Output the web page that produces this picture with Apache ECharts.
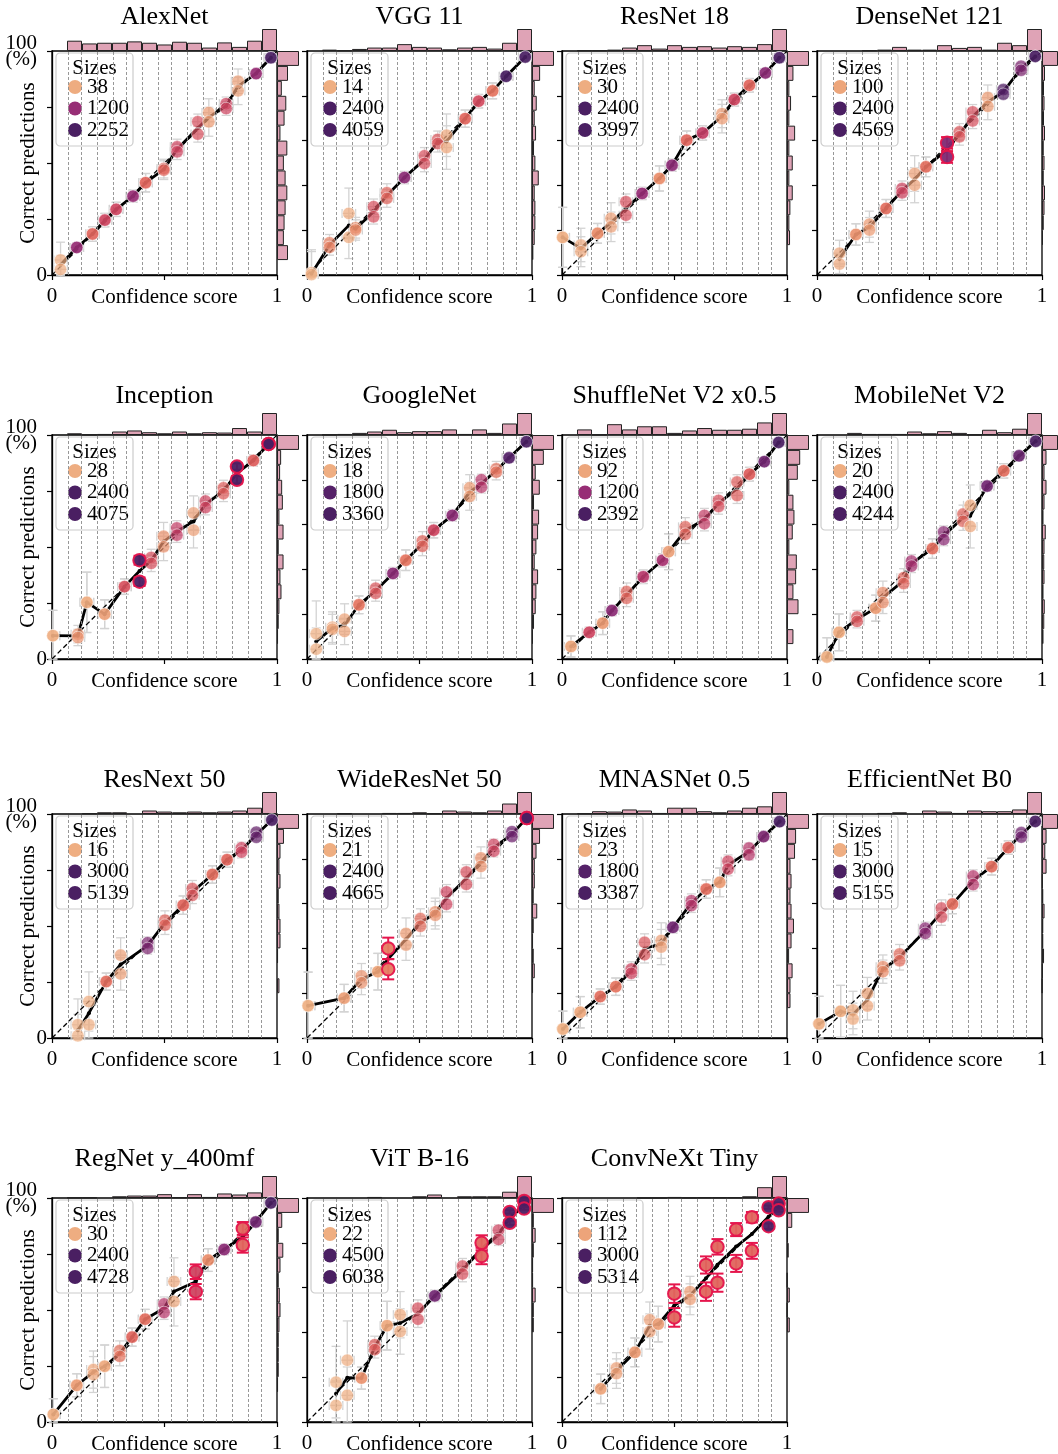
<!DOCTYPE html>
<html><head><meta charset="utf-8">
<script src="https://cdn.jsdelivr.net/npm/echarts/dist/echarts.min.js"></script>
<style>html,body{margin:0;padding:0;background:#fff}#c{width:1058px;height:1454px}</style>
</head><body><div id="c"></div>
<script>
// ---------------- DATA ----------------
const titles = ['AlexNet','VGG 11','ResNet 18','DenseNet 121','Inception','GoogleNet','ShuffleNet V2 x0.5','MobileNet V2','ResNext 50','WideResNet 50','MNASNet 0.5','EfficientNet B0','RegNet y_400mf','ViT B-16','ConvNeXt Tiny'];
const numBins = 15;
const xTickLabels = ['0', '1'];
const yTickLabels = ['0', '100\n(%)'];
const xAxisName = 'Confidence score';
const yAxisName = 'Correct predictions';
const legendTitle = 'Sizes';

// mean confidence per bin (null = empty bin)
const conf = [
 [0.038,0.11,0.18,0.235,0.285,0.36,0.416,0.497,0.556,0.648,0.697,0.774,0.827,0.907,0.973],
 [0.02,0.10,0.186,0.216,0.296,0.355,0.433,0.522,0.581,0.62,0.703,0.763,0.825,0.885,0.97],
 [0.003,0.084,0.158,0.218,0.284,0.356,0.433,0.489,0.554,0.625,0.711,0.766,0.833,0.904,0.966],
 [null,0.10,0.173,0.233,0.307,0.378,0.434,0.484,0.578,0.633,0.692,0.759,0.828,0.907,0.97],
 [0.004,0.115,0.155,0.234,0.322,0.389,0.441,0.496,0.555,0.629,0.682,0.762,0.822,0.895,0.963],
 [0.041,0.113,0.167,0.231,0.305,0.382,0.439,0.513,0.563,0.646,0.723,0.775,0.841,0.898,0.975],
 [0.04,0.121,0.181,0.222,0.287,0.361,0.447,0.474,0.548,0.633,0.696,0.778,0.833,0.899,0.963],
 [0.044,0.098,0.178,0.261,0.293,0.385,0.42,0.513,0.563,0.649,0.681,0.756,0.83,0.898,0.972],
 [null,0.115,0.164,0.241,0.305,null,0.425,0.502,0.583,0.624,0.713,0.778,0.842,0.908,0.977],
 [0.005,null,0.165,0.242,0.315,0.361,0.44,0.504,0.57,0.62,0.708,0.773,0.83,0.911,0.977],
 [0.004,0.081,0.17,0.239,0.308,0.367,0.441,0.493,0.575,0.641,0.701,0.738,0.831,0.896,0.967],
 [0.009,0.105,0.16,0.224,0.293,0.367,null,0.481,0.553,0.602,0.694,0.776,0.85,0.908,0.97],
 [0.006,0.11,0.184,0.234,0.301,0.356,0.414,0.498,0.542,0.639,0.694,0.765,0.848,0.906,0.973],
 [null,0.129,0.179,0.242,0.301,0.356,0.414,0.493,0.568,null,0.691,0.776,0.851,0.901,0.965],
 [null,null,0.172,0.242,0.324,0.39,0.428,0.499,0.569,0.64,0.691,0.774,0.844,0.918,0.963]
];
// accuracy (%) of the two evaluations per bin
const accA = [
 [6.7,12.3,18.3,24.5,29.3,35.2,41.2,47.5,57.2,68.4,72.5,76.5,86.5,89.9,97.0],
 [1.0,14.4,27.5,21.1,30.5,36.7,43.5,53.2,60.5,62.4,69.8,77.6,82.2,88.7,97.3],
 [16.8,13.4,18.6,25.3,32.7,36.4,43.1,49.0,60.2,63.4,72.0,78.3,84.7,90.2,97.0],
 [null,9.7,18.1,22.7,29.7,38.6,45.3,48.3,59.0,63.9,72.8,79.2,82.8,93.2,97.6],
 [10.4,11.1,25.3,20.0,32.3,44.1,45.3,54.8,58.5,65.2,70.5,76.4,85.9,88.6,96.0],
 [11.3,14.2,17.8,24.2,31.6,38.2,44.1,52.7,57.5,64.1,76.4,80.0,84.9,89.8,97.0],
 [5.6,11.9,16.0,21.6,30.1,36.7,44.1,47.9,59.0,64.1,70.8,79.0,82.5,88.1,96.7],
 [0.9,11.9,18.7,22.7,29.6,36.3,43.7,49.3,56.7,64.7,68.6,77.2,84.0,90.7,97.2],
 [null,5.9,16.3,25.2,37.0,null,42.5,52.6,59.3,66.7,73.0,79.6,84.9,91.9,97.3],
 [14.4,null,17.8,27.7,29.6,40.0,46.7,53.3,56.3,65.2,74.1,80.4,86.4,92.1,98.2],
 [4.0,11.5,18.5,22.9,30.8,42.7,43.5,49.4,61.3,66.5,69.5,78.9,84.8,89.9,96.6],
 [6.3,11.9,12.5,19.9,31.8,37.5,null,49.0,58.0,59.8,72.3,76.5,85.0,91.7,96.7],
 [3.4,16.4,23.4,24.9,31.9,37.9,45.9,52.7,62.7,67.1,72.3,77.0,86.4,89.3,97.8],
 [null,17.8,27.6,19.6,34.5,43.0,47.9,50.8,56.3,null,69.6,80.0,85.6,93.8,98.7],
 [null,null,14.8,24.1,31.1,45.6,43.7,57.3,58.2,70.1,78.2,85.9,91.4,95.9,97.5]
];
const accB = [
 [2.5,12.3,18.3,24.5,29.3,35.2,41.2,46.8,55.0,62.9,68.4,74.3,82.2,89.9,97.0],
 [0.2,12.3,16.8,20.1,26.0,34.2,43.5,49.8,58.7,56.9,69.8,77.6,82.2,88.7,97.3],
 [16.8,10.4,18.6,21.5,26.7,36.4,43.1,49.0,60.2,63.4,69.8,78.3,84.7,90.2,97.0],
 [null,4.9,18.1,20.1,29.7,36.7,40.1,48.3,52.7,61.7,68.8,75.3,80.7,91.4,97.6],
 [10.4,9.6,25.3,20.0,32.3,34.5,42.7,50.1,55.3,57.5,67.6,73.8,80.0,88.6,96.0],
 [4.4,13.3,12.3,24.2,29.3,38.2,44.1,50.3,57.5,64.1,72.6,76.7,83.4,89.8,97.0],
 [5.6,11.9,16.0,21.6,27.1,36.7,44.1,47.9,55.7,60.4,68.1,73.0,82.5,88.1,96.7],
 [0.9,11.9,16.8,22.7,25.2,33.7,41.5,49.3,53.3,61.5,59.2,77.2,84.0,90.7,97.2],
 [null,1.0,5.9,25.2,28.6,null,40.0,50.4,59.3,63.7,73.0,79.6,83.0,89.6,97.3],
 [14.4,null,17.8,24.7,29.6,30.7,41.5,49.9,54.8,59.7,68.6,76.6,83.4,89.9,98.2],
 [4.0,11.5,18.5,22.9,28.9,37.2,40.6,49.4,59.1,66.5,69.5,75.4,81.8,89.9,96.6],
 [6.3,11.9,8.5,14.3,29.6,34.5,null,46.7,54.0,59.8,68.5,76.5,85.0,89.7,96.7],
 [3.4,16.4,21.2,24.9,29.3,37.9,45.9,48.9,53.8,58.2,72.3,77.0,79.0,89.3,97.8],
 [null,7.4,11.9,19.6,32.3,43.0,40.4,45.9,56.3,null,66.1,74.1,81.5,88.9,95.3],
 [null,null,14.8,21.6,31.1,40.4,43.7,46.7,54.8,58.2,62.2,70.8,76.4,87.4,94.5]
];
// samples per bin (drives colour)
const binSize = [
 [38,1200,550,800,800,1200,550,550,800,700,200,800,150,1200,2252],
 [14,350,60,300,700,550,1300,700,650,100,550,750,450,2400,4059],
 [30,80,300,150,700,1200,300,1300,550,900,200,800,550,1300,3997],
 [null,100,250,200,500,800,150,500,1400,650,700,200,1800,1400,4569],
 [28,250,40,150,700,2400,700,250,900,150,800,600,2400,600,4075],
 [18,100,120,450,650,1300,450,550,800,1300,200,1000,450,1800,3360],
 [92,800,200,1300,550,1000,1100,150,550,900,700,600,600,1500,2392],
 [20,60,650,200,300,550,1100,500,1300,550,100,1500,500,1600,4244],
 [null,16,30,500,150,null,1400,550,550,650,500,550,800,1600,5139],
 [21,null,150,250,120,400,200,500,250,800,700,250,800,1500,4665],
 [23,80,500,450,800,650,150,1500,1000,500,200,800,1000,1400,3387],
 [15,30,60,120,300,500,null,1300,700,500,1000,500,550,1500,5155],
 [30,200,100,80,450,550,500,1000,80,800,300,1300,550,1500,4728],
 [null,22,25,250,600,80,90,700,1500,null,700,550,800,4500,6038],
 [null,null,112,150,200,150,150,550,200,550,550,550,550,3000,5314]
];
// bins flagged as miscalibrated (red)
const redBins = [[],[],[],[8],[5,12,14],[],[],[],[],[5,14],[],[],[9,12],[11,13,14],[7,9,10,11,12,13,14]];
// legend sizes
const legendSizes = [[38,1200,2252],[14,2400,4059],[30,2400,3997],[100,2400,4569],[28,2400,4075],[18,1800,3360],[92,1200,2392],[20,2400,4244],[16,3000,5139],[21,2400,4665],[23,1800,3387],[15,3000,5155],[30,2400,4728],[22,4500,6038],[112,3000,5314]];
// marginal histogram of confidence (top), bins 0..14
const topHist = [
 [0,30,22,24,24,28,24,19,27,24,10,25,12,30,64],
 [0,4,2,6,10,10,20,12,10,5,10,12,7,24,64],
 [0,2,2,4,10,17,7,17,12,14,10,14,12,20,64],
 [0,0,0,2,4,12,4,4,17,9,12,4,24,17,64],
 [0,5,1,3,10,13,8,5,10,5,8,7,20,10,63],
 [0,1,3,6,10,15,8,11,11,16,3,16,6,33,63],
 [0,16,1,31,16,25,25,6,13,20,15,15,18,36,63],
 [0,0,6,3,3,3,10,5,11,6,1,15,8,18,63],
 [0,0,2,5,5,0,10,7,5,7,5,7,10,18,63],
 [0,0,2,0,0,3,3,5,2,10,7,5,10,30,63],
 [0,2,8,7,13,10,3,18,18,8,5,10,18,22,63],
 [0,0,0,0,3,5,0,10,7,3,10,8,8,13,63],
 [0,1,1,0,5,7,7,11,2,11,3,13,10,16,63],
 [0,0,0,0,3,0,0,5,10,0,5,5,5,18,63],
 [0,0,0,0,0,0.5,0.5,3,1,2,2,2,5,31,63]
];
// marginal histogram of accuracy (right), bins 0..14 from bottom
const rightHist = [
 [0,32,20,22,25,30,25,20,30,10,22,27,14,32,64],
 [0,4,8,10,10,8,20,10,6,12,8,14,8,24,65],
 [0,0,9,7,10,17,7,17,7,24,7,12,7,19,65],
 [0,0,4,7,10,12,7,10,7,12,8,10,8,12,64],
 [0,3,5,7,13,10,19,5,19,7,17,15,9,12,64],
 [0,3,6,11,13,18,8,13,18,21,6,23,11,35,65],
 [0,19,2,34,19,27,29,7,17,22,19,7,32,39,65],
 [0,6,9,11,6,10,9,10,15,6,10,18,10,18,64],
 [0,0,0,7,0,3,10,10,7,5,10,7,10,20,63],
 [0,0,0,3,8,5,3,5,15,5,8,8,13,23,63],
 [0,0,10,10,16,6,13,20,13,10,13,10,23,26,63],
 [0,0,0,1,3,8,5,5,10,5,3,18,13,18,63],
 [0,0,3,5,5,5,7,10,8,5,10,18,5,15,63],
 [0,0,0,0,0,0,5,5,10,3,3,5,10,5,60],
 [0,0,0,0,0,0,8,1,8,1,0,5,3,15,63]
];
const confSpread = 0.03; // horizontal spread of confidences within a bin

// ---------------- LAYOUT / STYLE ----------------
const COL_LEFT = [52, 307, 562, 817];
const ROW_TOP = [51, 435, 814, 1198];
const TITLE_Y = [17, 396, 780, 1159];
const W = 225, H = 224, HIST = 22;
const FONT = '"Liberation Serif", "Times New Roman", "DejaVu Serif", serif';
const HIST_FILL = '#dfa3b6';
const RED = '#e5154c';
const rampStops = [[0,'#efb083'],[0.1,'#eb9b73'],[0.2,'#e67c61'],[0.3,'#de5d5b'],[0.4,'#cf4561'],[0.5,'#b7376b'],[0.6,'#972d75'],[0.75,'#712771'],[0.9,'#552168'],[1,'#4a1f62']];
function hex2rgb(h){return [parseInt(h.slice(1,3),16),parseInt(h.slice(3,5),16),parseInt(h.slice(5,7),16)];}
function sizeColor(n){
  const t = Math.max(0, Math.min(1, n/2000));
  for (let k=1;k<rampStops.length;k++){
    if (t <= rampStops[k][0]){
      const [t0,c0] = rampStops[k-1], [t1,c1] = rampStops[k];
      const f = (t - t0)/(t1 - t0), a = hex2rgb(c0), b = hex2rgb(c1);
      return 'rgb(' + a.map((v,j)=>Math.round(v+(b[j]-v)*f)).join(',') + ')';
    }
  }
  return rampStops[rampStops.length-1][1];
}
function ci(y, n){ const p = Math.max(0.04, Math.min(0.96, y/100)); return 196*Math.sqrt(p*(1-p)/n); }
const binEdges = []; for (let k=1;k<numBins;k++) binEdges.push(k/numBins);
const binCats = []; for (let k=0;k<numBins;k++) binCats.push(String(k));

function errRender(params, api){
  const x = api.value(0), y = api.value(1), ey = api.value(2), ex = api.value(3), red = api.value(4);
  const yt = Math.min(100, y+ey), yb = Math.max(0, y-ey);
  const pT = api.coord([x, yt]), pB = api.coord([x, yb]);
  const color = red ? RED : '#d3d3d3', lw = red ? 2 : 1.3, cap = red ? 6 : 4.5;
  const ch = [
    {type:'line', shape:{x1:pT[0],y1:pT[1],x2:pB[0],y2:pB[1]}, style:{stroke:color,lineWidth:lw}},
    {type:'line', shape:{x1:pT[0]-cap,y1:pT[1],x2:pT[0]+cap,y2:pT[1]}, style:{stroke:color,lineWidth:lw}},
    {type:'line', shape:{x1:pB[0]-cap,y1:pB[1],x2:pB[0]+cap,y2:pB[1]}, style:{stroke:color,lineWidth:lw}}
  ];
  if (!red){
    const pL = api.coord([Math.max(0,x-ex), y]), pR = api.coord([Math.min(1,x+ex), y]);
    ch.push({type:'line', shape:{x1:pL[0],y1:pL[1],x2:pR[0],y2:pR[1]}, style:{stroke:color,lineWidth:lw}});
    ch.push({type:'line', shape:{x1:pL[0],y1:pL[1]-cap,x2:pL[0],y2:pL[1]+cap}, style:{stroke:color,lineWidth:lw}});
    ch.push({type:'line', shape:{x1:pR[0],y1:pR[1]-cap,x2:pR[0],y2:pR[1]+cap}, style:{stroke:color,lineWidth:lw}});
  }
  return {type:'group', children: ch};
}

const grids=[], xAxes=[], yAxes=[], series=[], graphics=[];
titles.forEach((title, i) => {
  const col = i % 4, row = Math.floor(i / 4);
  const L = COL_LEFT[col], T = ROW_TOP[row];
  const gm = grids.length;
  grids.push({left:L, top:T, width:W, height:H, show:true, borderColor:'#000', borderWidth:1.3, backgroundColor:'rgba(0,0,0,0)'});
  grids.push({left:L, top:T-HIST, width:W, height:HIST});
  grids.push({left:L+W, top:T, width:HIST, height:H});

  xAxes.push({gridIndex:gm, type:'value', min:0, max:1, interval:0.5,
    axisLine:{show:true, lineStyle:{color:'#000', width:1.3}},
    axisTick:{show:true, length:5, lineStyle:{color:'#000', width:1.2}},
    splitLine:{show:false},
    axisLabel:{show:true, showMinLabel:true, showMaxLabel:true, margin:11, color:'#000', fontFamily:FONT, fontSize:21,
      formatter: v => v === 0 ? xTickLabels[0] : (v === 1 ? xTickLabels[1] : '')}});
  xAxes.push({gridIndex:gm+1, type:'category', data:binCats, show:false, boundaryGap:true});
  xAxes.push({gridIndex:gm+2, type:'value', min:0, max:Math.max(...rightHist[i]), show:false});

  yAxes.push({gridIndex:gm, type:'value', min:0, max:100, interval: col === 0 ? 25 : 20,
    axisLine:{show:true, lineStyle:{color:'#000', width:1.3}},
    axisTick:{show:true, length:5, lineStyle:{color:'#000', width:1.2}},
    splitLine:{show:false},
    axisLabel:{show: col === 0, showMinLabel:true, showMaxLabel:true, margin:5, color:'#000', fontFamily:FONT, fontSize:21,
      formatter: v => v === 0 ? yTickLabels[0] : (v === 100 ? yTickLabels[1].split('\n').map(s => '{p|' + s + '}').join('\n') : ''),
      rich:{p:{fontFamily:FONT, fontSize:21, lineHeight:16, color:'#000', padding:[0,10,0,0]}}}});
  yAxes.push({gridIndex:gm+1, type:'value', min:0, max:Math.max(...topHist[i]), show:false});
  yAxes.push({gridIndex:gm+2, type:'category', data:binCats, show:false, boundaryGap:true});

  // bin edge lines
  series.push({type:'line', xAxisIndex:gm, yAxisIndex:gm, data:[[0,0]], symbol:'none', lineStyle:{opacity:0}, z:1, silent:true,
    markLine:{silent:true, symbol:['none','none'], label:{show:false}, animation:false,
      lineStyle:{color:'#8c8c8c', type:[3,2], width:0.9}, data: binEdges.map(e => ({xAxis:e}))}});

  const grayErr = [], redErr = [], normPts = [], redPts = [], meanLine = [];
  const rb = redBins[i];
  for (let k=0;k<numBins;k++){
    const x = conf[i][k]; if (x === null) continue;
    const n = binSize[i][k], isRed = rb.includes(k) ? 1 : 0;
    const c = sizeColor(n);
    [accA[i][k], accB[i][k]].forEach(y => {
      const e = ci(y, n);
      if (isRed){ redErr.push([x, y, e, 0, 1]); redPts.push({value:[x,y], itemStyle:{color:c}}); }
      else { grayErr.push([x, y, e, confSpread, 0]); normPts.push({value:[x,y], itemStyle:{color:c}}); }
    });
    meanLine.push([x, (accA[i][k] + accB[i][k]) / 2]);
  }
  series.push({type:'custom', xAxisIndex:gm, yAxisIndex:gm, data:grayErr, renderItem:errRender, z:2, silent:true});
  series.push({type:'line', xAxisIndex:gm, yAxisIndex:gm, data:[[0,0],[1,100]], symbol:'none',
    lineStyle:{color:'#000', width:1.3, type:[5,3]}, z:3, silent:true});
  series.push({type:'line', xAxisIndex:gm, yAxisIndex:gm, data:meanLine, symbol:'circle', symbolSize:4,
    itemStyle:{color:'#000'}, lineStyle:{color:'#000', width:2.8}, z:4, silent:true});
  series.push({type:'scatter', xAxisIndex:gm, yAxisIndex:gm, data:normPts, symbolSize:12.5,
    itemStyle:{opacity:0.72, borderColor:'rgba(255,255,255,0.7)', borderWidth:1}, z:5, silent:true});
  series.push({type:'custom', xAxisIndex:gm, yAxisIndex:gm, data:redErr, renderItem:errRender, z:6, silent:true});
  series.push({type:'scatter', xAxisIndex:gm, yAxisIndex:gm, data:redPts, symbolSize:12.5,
    itemStyle:{opacity:0.95, borderColor:RED, borderWidth:2}, z:7, silent:true});

  series.push({type:'bar', xAxisIndex:gm+1, yAxisIndex:gm+1, data: topHist[i].map(v => v > 0 ? v : null),
    barWidth:'100%', barCategoryGap:'0%', itemStyle:{color:HIST_FILL, borderColor:'#222', borderWidth:1}, silent:true});
  series.push({type:'bar', xAxisIndex:gm+2, yAxisIndex:gm+2, data: rightHist[i].map(v => v > 0 ? v : null),
    barWidth:'100%', barCategoryGap:'0%', itemStyle:{color:HIST_FILL, borderColor:'#222', borderWidth:1}, silent:true});

  const txt = (text, size, align) => ({text:text, fill:'#000', font:size + 'px ' + FONT, textAlign:align, textVerticalAlign:'middle', align:align, verticalAlign:'middle'});
  // title
  graphics.push({type:'text', x:L + W/2, y:TITLE_Y[row], z:100, style:txt(title, 26, 'center')});
  // x axis name (same line as the tick labels)
  graphics.push({type:'text', x:L + W/2, y:T + H + 22, z:100, style:txt(xAxisName, 21, 'center')});
  if (col === 0){
    graphics.push({type:'text', x:28, y:T + H/2, rotation:Math.PI/2, z:100, style:txt(yAxisName, 21, 'center')});
  }
  // legend
  const lg = legendSizes[i];
  const kids = [
    {type:'rect', shape:{x:0, y:0, width:77, height:93, r:4}, style:{fill:'rgba(255,255,255,0.85)', stroke:'#cccccc', lineWidth:1.2}},
    {type:'text', x:38.5, y:15, style:txt(legendTitle, 21, 'center')}
  ];
  lg.forEach((s, j) => {
    const cy = 34 + j * 21.5;
    kids.push({type:'circle', shape:{cx:19, cy:cy, r:7}, style:{fill:sizeColor(s)}});
    kids.push({type:'text', x:31, y:cy, style:txt(String(s), 21, 'left')});
  });
  graphics.push({type:'group', x:L + 4, y:T + 2, z:100, children:kids});
});

const chart = echarts.init(document.getElementById('c'), null, {renderer:'canvas', width:1058, height:1454});
chart.setOption({
  animation:false,
  backgroundColor:'#fff',
  grid:grids, xAxis:xAxes, yAxis:yAxes, series:series, graphic:graphics
});
</script>
</body></html>
